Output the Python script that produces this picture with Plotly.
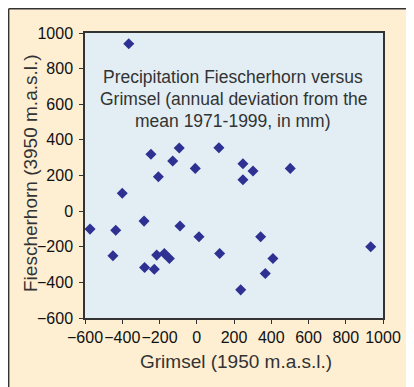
import plotly.graph_objects as go

grimsel = [-365, -400, -246, -206, -129, -94, -8, 119, 248, 248, 302, 502,
           -573, -435, -450, -283, -280, -228, -215, -174, -147, -90, 12, 123,
           236, 343, 368, 409, 934]
fiescherhorn = [940, 100, 319, 193, 281, 354, 240, 356, 266, 176, 225, 240,
                -101, -107, -251, -56, -316, -326, -247, -238, -266, -84, -144, -238,
                -442, -144, -350, -266, -200]
tick_vals = [-600, -400, -200, 0, 200, 400, 600, 800, 1000]
title_lines = ["Precipitation Fiescherhorn versus",
               "Grimsel (annual deviation from the",
               "mean 1971-1999, in mm)"]
x_title = "Grimsel (1950 m.a.s.l.)"
y_title = "Fiescherhorn (3950 m.a.s.l.)"

OFF = 8  # page body margin offset of the figure
W, H = 414, 387
L, T = 85 - OFF, 33 - OFF
R = W - (383 - OFF)
B = H - (318 - OFF)
pw, ph = W - L - R, H - T - B

def px_x(x):  # page pixel -> paper fraction
    return (x - OFF - L) / pw

def px_y(y):
    return (H - B - (y - OFF)) / ph

fig = go.Figure()
fig.add_trace(go.Scatter(
    x=grimsel, y=fiescherhorn, mode="markers",
    marker=dict(symbol="diamond", size=8.5, color="#2E3192"),
    hoverinfo="x+y"))

# panel border (top and left edges)
fig.add_shape(type="line", xref="paper", yref="paper",
              x0=px_x(8.7), x1=px_x(W + 20), y0=px_y(8.7), y1=px_y(8.7),
              line=dict(color="#333333", width=1.4))
fig.add_shape(type="line", xref="paper", yref="paper",
              x0=px_x(8.7), x1=px_x(8.7), y0=px_y(8.7), y1=px_y(H + 20),
              line=dict(color="#333333", width=1.4))

for i, line in enumerate(title_lines):
    fig.add_annotation(text=line, xref="paper", yref="paper",
                       x=px_x(233), y=px_y(77 + 22 * i), showarrow=False,
                       xanchor="center", yanchor="middle",
                       font=dict(size=17.5, color="#333333"))

fig.add_annotation(text=x_title, xref="paper", yref="paper",
                   x=px_x(236), y=px_y(361), showarrow=False,
                   xanchor="center", yanchor="middle",
                   font=dict(size=19, color="#333333"))
fig.add_annotation(text=y_title, xref="paper", yref="paper",
                   x=px_x(30), y=px_y(173), showarrow=False, textangle=-90,
                   xanchor="center", yanchor="middle",
                   font=dict(size=19, color="#333333"))

axis_common = dict(
    tickvals=tick_vals, ticks="outside", ticklen=4, tickcolor="#333333",
    tickfont=dict(size=16, color="#111111"), showgrid=False, zeroline=False,
    showline=True, linecolor="#333333", linewidth=1.5, mirror=True,
    tickangle=0, automargin=False, range=[-600, 1000],
)
fig.update_xaxes(ticklabelstandoff=0, **axis_common)
fig.update_yaxes(ticklabelstandoff=3, **axis_common)

fig.update_layout(
    width=W, height=H, margin=dict(l=L, r=R, t=T, b=B, autoexpand=False),
    paper_bgcolor="#FEEFD3", plot_bgcolor="#E2EEF4",
    font=dict(family="Liberation Sans, Arial"),
    showlegend=False,
)
fig.write_html("out.html")
